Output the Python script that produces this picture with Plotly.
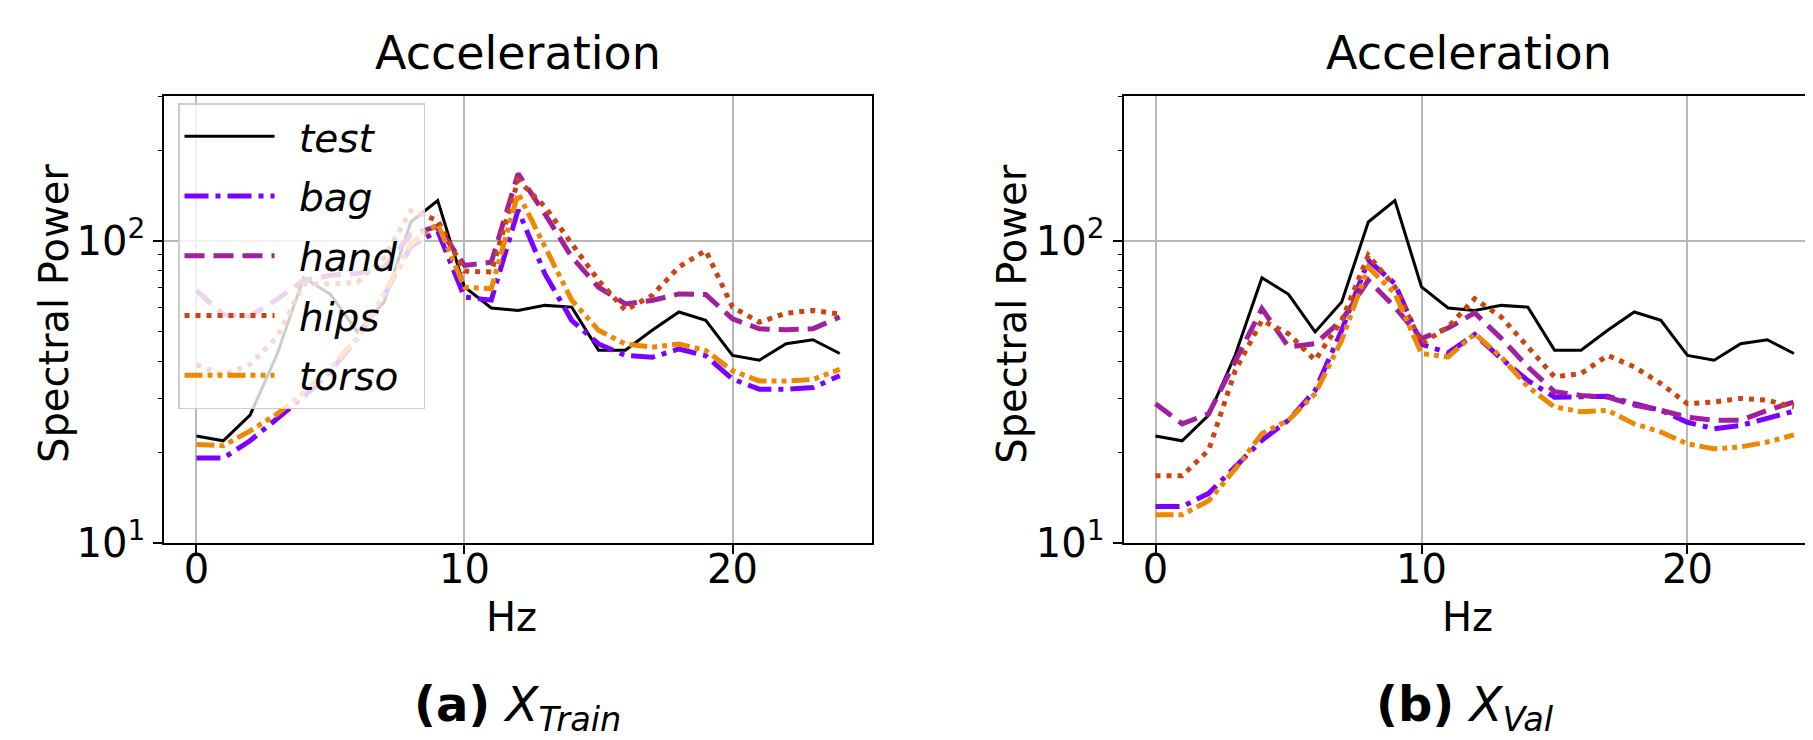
import plotly.graph_objects as go

hz = list(range(25))

# shared test spectrum (identical in both panels)
test = [22.6, 21.8, 26.5, 42.0, 75.6, 66.6, 50.0, 62.8, 115.6, 136.0, 70.5, 60.0, 58.9, 61.2, 60.4,
        43.5, 43.5, 50.6, 58.2, 54.6, 41.8, 40.3, 45.7, 47.1, 42.4]

# (a) X_Train
bag_train = [19.1, 19.1, 21.8, 25.7, 30.5, 37.0, 47.5, 66.0, 96.0, 108.0, 65.2, 63.7, 126.6, 77.8, 54.6,
             45.6, 41.8, 41.2, 43.9, 41.7, 34.9, 32.3, 32.3, 32.7, 35.8]
hand_train = [68.6, 57.0, 56.5, 64.0, 74.0, 77.0, 78.0, 82.0, 105.0, 112.0, 83.0, 85.0, 167.0, 123.0, 88.5,
              70.3, 61.9, 63.5, 66.8, 66.5, 55.2, 51.2, 50.8, 51.2, 56.0]
hips_train = [39.0, 36.0, 39.0, 48.0, 72.0, 72.0, 73.0, 88.0, 126.0, 117.0, 79.5, 78.9, 159.0, 130.0, 98.0,
              74.0, 59.0, 66.0, 82.0, 93.0, 60.4, 53.8, 57.7, 58.9, 57.3]
torso_train = [21.2, 21.0, 23.5, 26.7, 31.5, 38.0, 48.0, 67.0, 98.0, 114.0, 70.3, 69.5, 144.0, 95.5, 63.7,
               50.6, 45.6, 44.5, 45.6, 43.4, 37.2, 34.4, 34.4, 34.8, 37.6]

# (b) X_Val
bag_val = [13.2, 13.2, 14.6, 17.9, 21.9, 25.5, 32.0, 50.6, 86.3, 72.2, 45.5, 42.6, 49.0, 40.8, 34.5,
           30.4, 30.4, 30.6, 28.9, 27.5, 25.1, 23.9, 24.5, 25.8, 27.3]
hand_val = [28.9, 24.8, 26.8, 40.3, 59.7, 44.6, 45.7, 54.6, 74.1, 60.4, 47.5, 51.5, 57.8, 47.6, 38.3,
            31.7, 30.8, 30.4, 28.6, 27.5, 26.1, 25.5, 25.5, 27.5, 29.3]
hips_val = [16.7, 16.7, 20.3, 37.3, 54.6, 49.3, 40.3, 54.6, 89.7, 70.5, 45.7, 51.9, 64.4, 56.0, 44.6,
            35.5, 36.4, 41.8, 38.3, 33.7, 28.9, 29.3, 30.1, 29.7, 28.2]
torso_val = [12.4, 12.4, 13.8, 17.6, 23.0, 25.5, 31.2, 46.9, 82.0, 67.0, 42.4, 41.3, 49.3, 41.3, 32.9,
             28.2, 27.2, 27.5, 24.8, 23.3, 21.3, 20.5, 20.8, 21.6, 22.8]

names = ["test", "bag", "hand", "hips", "torso"]
colors = ["#000000", "#7b00ff", "#a0209f", "#cc4410", "#ee8800"]
dashes = ["solid", "24px,7px,5px,7px", "20px,9px", "5px,6px", "18px,5px,5px,5px,5px,5px"]
widths = [3, 5, 5, 5, 5]

panels = [
    [test, bag_train, hand_train, hips_train, torso_train],
    [test, bag_val, hand_val, hips_val, torso_val],
]

W, H = 1813, 740
FONT = "DejaVu Sans"
SP = "\u2002"

fig = go.Figure()
for p, series in enumerate(panels):
    for i, (nm, ys) in enumerate(zip(names, series)):
        fig.add_trace(go.Scatter(
            x=hz, y=ys, mode="lines", name=SP + nm + SP,
            line=dict(color=colors[i], width=widths[i], dash=dashes[i]),
            xaxis="x" if p == 0 else "x2", yaxis="y" if p == 0 else "y2",
            showlegend=(p == 0), legendgroup=nm,
        ))

minor_vals = [20, 30, 40, 50, 60, 70, 80, 90, 200, 300]
common_x = dict(
    showline=True, linecolor="black", linewidth=2, mirror=True,
    ticks="outside", ticklen=9, tickwidth=1.5, tickcolor="black",
    tickvals=[0, 10, 20], ticktext=["0", "10", "20"], ticklabelstandoff=-19,
    showgrid=True, gridcolor="#b8b8b8", gridwidth=1.5, zeroline=False,
    tickfont=dict(family=FONT, size=40, color="black"), automargin=False,
)
common_y = dict(
    type="log", range=[1, 2.481],
    showline=True, linecolor="black", linewidth=2,
    ticks="outside", ticklen=9, tickwidth=1.5, tickcolor="black",
    tickvals=[10, 100], ticktext=["10<sup>1</sup>", "10<sup>2</sup>"],
    showgrid=True, gridcolor="#b8b8b8", gridwidth=1.5, zeroline=False,
    minor=dict(tickvals=minor_vals, ticks="outside", ticklen=4, tickwidth=1, tickcolor="black", showgrid=False),
    tickfont=dict(family=FONT, size=40, color="black"), automargin=False,
)

ydom = [1 - 535 / H, 1 - 87.7 / H]
fig.update_layout(
    width=W, height=H, template="none",
    margin=dict(l=0, r=0, t=0, b=0),
    paper_bgcolor="white", plot_bgcolor="white",
    xaxis=dict(domain=[156.3 / W, 863.9 / W], range=[-1.2, 25.2], anchor="y", **common_x),
    yaxis=dict(domain=ydom, anchor="x", mirror=True, **common_y),
    xaxis2=dict(domain=[1115.6 / W, 1.0], range=[-1.2, 25.02], anchor="y2", **common_x),
    yaxis2=dict(domain=ydom, anchor="x2", mirror=False, **common_y),
    legend=dict(
        x=170 / W, y=1 - 95 / H, xanchor="left", yanchor="top",
        bgcolor="rgba(255,255,255,0.8)", bordercolor="#cccccc", borderwidth=1.5,
        font=dict(family=FONT, size=39, color="black", style="italic"),
        traceorder="grouped", tracegroupgap=6, itemwidth=90,
    ),
    showlegend=True,
)

ann = []
for cx, lx, hzx in [(510 / W, 46 / W, 503 / W), (1461 / W, 1003.7 / W, 1459 / W)]:
    ann.append(dict(text="Acceleration", x=cx, y=1 - 45 / H, xref="paper", yref="paper",
                    showarrow=False, xanchor="center", yanchor="middle",
                    font=dict(family=FONT, size=46, color="black")))
    ann.append(dict(text="Spectral Power", x=lx, y=1 - 306 / H, xref="paper", yref="paper",
                    showarrow=False, xanchor="center", yanchor="middle", textangle=-90,
                    font=dict(family=FONT, size=40, color="black")))
    ann.append(dict(text="Hz", x=hzx, y=1 - 609 / H, xref="paper", yref="paper",
                    showarrow=False, xanchor="center", yanchor="middle",
                    font=dict(family=FONT, size=40, color="black")))
ann.append(dict(text="<b>(a)</b> <i>X<sub>Train</sub></i>", x=509 / W, y=1 - 699 / H,
                xref="paper", yref="paper", showarrow=False, xanchor="center", yanchor="middle",
                font=dict(family=FONT, size=48, color="black")))
ann.append(dict(text="<b>(b)</b> <i>X<sub>Val</sub></i>", x=1457 / W, y=1 - 699 / H,
                xref="paper", yref="paper", showarrow=False, xanchor="center", yanchor="middle",
                font=dict(family=FONT, size=48, color="black")))
fig.update_layout(annotations=ann)

fig.write_html("out.html")
